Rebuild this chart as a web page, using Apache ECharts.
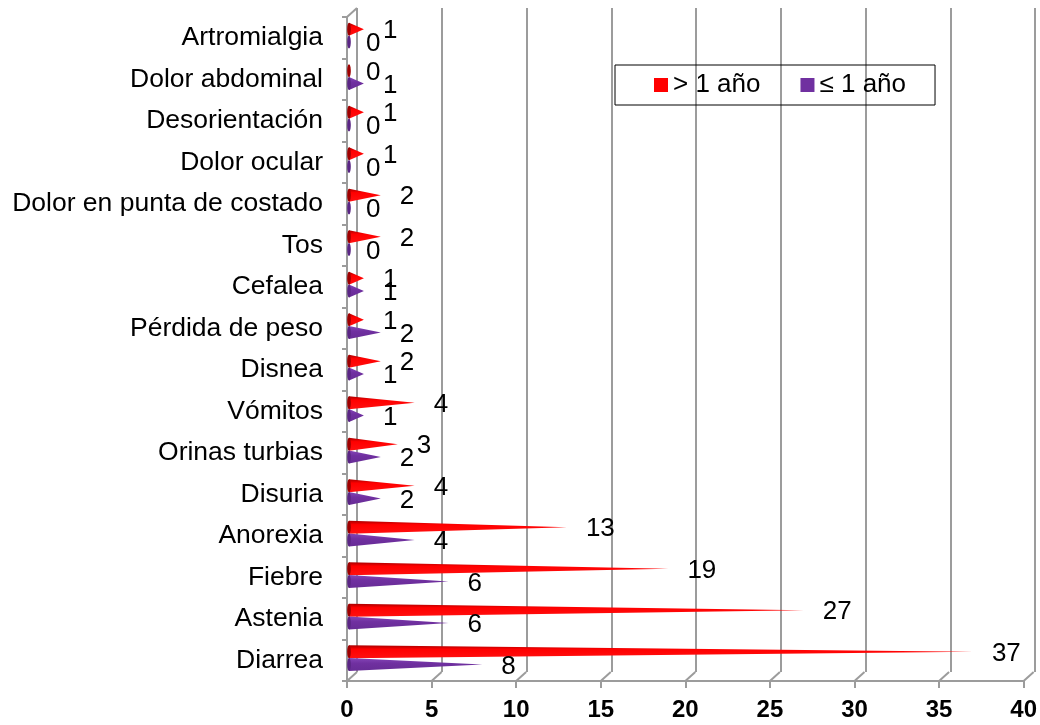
<!DOCTYPE html>
<html>
<head>
<meta charset="utf-8">
<script src="https://cdn.jsdelivr.net/npm/echarts/dist/echarts.min.js"></script>
<style>
  html, body { margin: 0; padding: 0; background: #fff; }
  #symptomChart { width: 1040px; height: 725px; }
</style>
</head>
<body>
<div id="symptomChart"></div>
<script>
// categories listed bottom to top
const categories = ['Diarrea', 'Astenia', 'Fiebre', 'Anorexia', 'Disuria', 'Orinas turbias', 'Vómitos', 'Disnea',
  'Pérdida de peso', 'Cefalea', 'Tos', 'Dolor en punta de costado', 'Dolor ocular', 'Desorientación',
  'Dolor abdominal', 'Artromialgia']
const olderValues = [37, 27, 19, 13, 4, 3, 4, 2, 1, 1, 2, 2, 1, 1, 0, 1]
const youngerValues = [8, 6, 6, 4, 2, 2, 1, 1, 2, 1, 0, 0, 0, 0, 1, 0]
const xTicks = [0, 5, 10, 15, 20, 25, 30, 35, 40]
const seriesNames = ['> 1 año', '≤ 1 año']

const fontFamily = '"Liberation Sans", Arial, sans-serif'
const gridColor = '#9c9c9c'
const depthX = 10
const depthY = -9

const chart = echarts.init(document.getElementById('symptomChart'))

// cone drawn as a flat triangle with a small base ellipse
function coneRenderer(offsetY, colors, baseColor) {
  return (params, api) => {
    const v = api.value(0)
    const cat = api.value(1)
    const p0 = api.coord([0, cat])
    const p1 = api.coord([v, cat])
    const h = 13
    const cy = p0[1] + offsetY
    const x0 = p0[0] + 2
    const x1 = Math.max(p1[0], x0)
    const fill = new echarts.graphic.LinearGradient(0, 0, 0, 1, colors)
    return {
      type: 'group',
      children: [
        {
          type: 'polygon',
          shape: { points: [[x0, cy - h / 2], [x1, cy], [x0, cy + h / 2]] },
          style: { fill: fill }
        },
        {
          type: 'ellipse',
          shape: { cx: x0, cy: cy, rx: 1.8, ry: h / 2 },
          style: { fill: baseColor }
        },
        {
          type: 'text',
          style: {
            text: String(v),
            x: p1[0] + 19,
            y: cy + 2,
            fontSize: 26,
            fontFamily: fontFamily,
            fill: '#000',
            align: 'left',
            verticalAlign: 'middle'
          }
        }
      ]
    }
  }
}

function floorRenderer(params, api) {
  const cs = params.coordSys
  const x = api.coord([api.value(0), 0])[0]
  const bottom = cs.y + cs.height
  const lineStyle = { stroke: gridColor, lineWidth: 2 }
  const children = [
    { type: 'line', shape: { x1: x, y1: bottom, x2: x + depthX, y2: bottom + depthY }, style: lineStyle }
  ]
  if (api.value(0) === 0) {
    children.push({ type: 'line', shape: { x1: x, y1: cs.y, x2: x + depthX, y2: cs.y + depthY }, style: lineStyle })
  }
  return { type: 'group', children: children }
}

const option = {
  animation: false,
  legend: {
    left: 615,
    top: 65,
    padding: [7, 29, 7, 39],
    borderColor: '#000',
    borderWidth: 1,
    itemWidth: 14,
    itemHeight: 14,
    itemGap: 40,
    itemTextGap: 5,
    icon: 'rect',
    textStyle: { fontSize: 26, fontFamily: fontFamily, color: '#000' },
    data: seriesNames
  },
  grid: [
    { left: 347, top: 17, width: 677, height: 664 },
    { left: 357, top: 8, width: 678, height: 664 }
  ],
  xAxis: [
    {
      gridIndex: 0,
      type: 'value',
      min: 0,
      max: 40,
      interval: 5,
      axisLine: { show: true, lineStyle: { color: gridColor, width: 2 } },
      axisTick: { show: true, length: 7, lineStyle: { color: gridColor, width: 2 } },
      splitLine: { show: false },
      axisLabel: {
        margin: 17,
        fontSize: 24,
        fontWeight: 'bold',
        fontFamily: fontFamily,
        color: '#000',
        formatter: v => String(v)
      }
    },
    {
      gridIndex: 1,
      type: 'value',
      min: 0,
      max: 40,
      interval: 5,
      axisLine: { show: false },
      axisTick: { show: false },
      axisLabel: { show: false },
      splitLine: { show: true, lineStyle: { color: gridColor, width: 2 } }
    }
  ],
  yAxis: [
    {
      gridIndex: 0,
      type: 'category',
      data: categories,
      axisLine: { show: true, lineStyle: { color: gridColor, width: 2 } },
      axisTick: { show: true, length: 5, lineStyle: { color: gridColor, width: 2 } },
      axisLabel: {
        margin: 24,
        padding: [7, 0, 0, 0],
        fontSize: 26.5,
        fontFamily: fontFamily,
        color: '#000'
      }
    },
    {
      gridIndex: 1,
      type: 'value',
      show: false,
      splitLine: { show: false }
    }
  ],
  series: [
    {
      name: seriesNames[0],
      type: 'custom',
      xAxisIndex: 0,
      yAxisIndex: 0,
      clip: false,
      itemStyle: { color: '#ff0000' },
      encode: { x: 0, y: 1 },
      renderItem: coneRenderer(-8.5, [
        { offset: 0, color: '#a80000' },
        { offset: 0.3, color: '#ff0000' },
        { offset: 1, color: '#ff1010' }
      ], '#a00000'),
      data: olderValues.map((v, i) => [v, i])
    },
    {
      name: seriesNames[1],
      type: 'custom',
      xAxisIndex: 0,
      yAxisIndex: 0,
      clip: false,
      itemStyle: { color: '#7030a0' },
      encode: { x: 0, y: 1 },
      renderItem: coneRenderer(4.3, [
        { offset: 0, color: '#8446b8' },
        { offset: 0.4, color: '#7030a0' },
        { offset: 1, color: '#672c96' }
      ], '#5a2585'),
      data: youngerValues.map((v, i) => [v, i])
    },
    {
      type: 'custom',
      xAxisIndex: 0,
      yAxisIndex: 0,
      clip: false,
      silent: true,
      encode: { x: 0 },
      renderItem: floorRenderer,
      data: xTicks.map(v => [v])
    }
  ]
}

option && chart.setOption(option)
</script>
</body>
</html>
